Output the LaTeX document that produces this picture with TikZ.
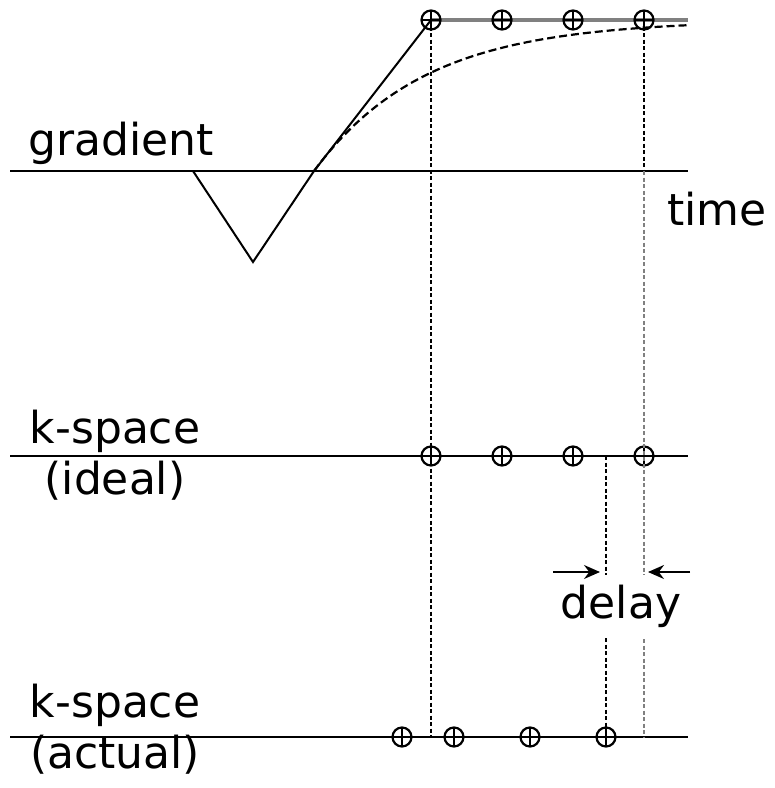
\documentclass[tikz,border=0pt]{standalone}
\usepackage{fontspec}
\setmainfont{DejaVu Sans}
\usetikzlibrary{arrows.meta}

\begin{document}
\begin{tikzpicture}[x=1pt,y=-1pt,axis/.style={line width=2.2pt},guide/.style={line width=1.7pt,dash pattern=on 4pt off 2.5pt},sample/.style={circle,draw,line width=2.2pt,minimum size=19pt,inner sep=0pt,path picture={\draw[line width=1.7pt] (path picture bounding box.north)--(path picture bounding box.south) (path picture bounding box.west)--(path picture bounding box.east);}},lbl/.style={font=\fontsize{44}{51}\selectfont,inner sep=0pt}]
\useasboundingbox (0,0) rectangle (775,788);

% the three time axes: gradient, ideal and actual k-space
\coordinate (gradL) at (10,171); \coordinate (gradR) at (688,171);
\coordinate (idealL) at (10,456); \coordinate (idealR) at (688,456);
\coordinate (actL) at (10,737); \coordinate (actR) at (688,737);
\draw[axis] (gradL)--(gradR);
\draw[axis] (idealL)--(idealR);
\draw[axis] (actL)--(actR);
\draw[line width=2pt] (193,171)--(253,262)--(314,171)--(431,20);
\draw[gray,line width=3.5pt] (431,20)--(688,20);
\draw[line width=2.2pt,dash pattern=on 8pt off 4pt] plot[domain=314:688,samples=80] (\x,{20+151*exp(-(\x-314)/111)});

\foreach \n/\xx in {1/431,2/502,3/573,4/644}{
 \node[sample] (t\n) at (\xx,20) {};
 \node[sample] (i\n) at (\xx,456) {};
}
\foreach \n/\xx in {1/402,2/454,3/530,4/606}
 \node[sample] (a\n) at (\xx,737) {};

\draw[guide] (t1.center)--(t1 |- actR);
\draw[guide] (t4.center)--(t4 |- gradR);
\draw[guide,gray] (t4 |- gradR)--(t4 |- actR);
\draw[guide] (a4 |- idealR)--(a4.center);

% labels
\node[lbl,anchor=base west] (gradlabel) at (28,155) {gradient};
\node[lbl,anchor=base west] (timelabel) at (667,225) {time};
\node[lbl,align=center] (ideallabel) at (115,455) {k-space\\(ideal)};
\node[lbl,align=center] (actlabel) at (115,729) {k-space\\(actual)};
\node[lbl,fill=white,inner sep=10pt,anchor=base] (delay) at (621,618) {delay};
\coordinate (dl) at (553,572); \coordinate (tipL) at (600,572);
\coordinate (dr) at (690,572); \coordinate (tipR) at (648,572);
\draw[-{Stealth[length=16pt,width=14pt]},line width=1.7pt] (dl)--(tipL);
\draw[-{Stealth[length=16pt,width=14pt]},line width=1.7pt] (dr)--(tipR);
\end{tikzpicture}
\end{document}
